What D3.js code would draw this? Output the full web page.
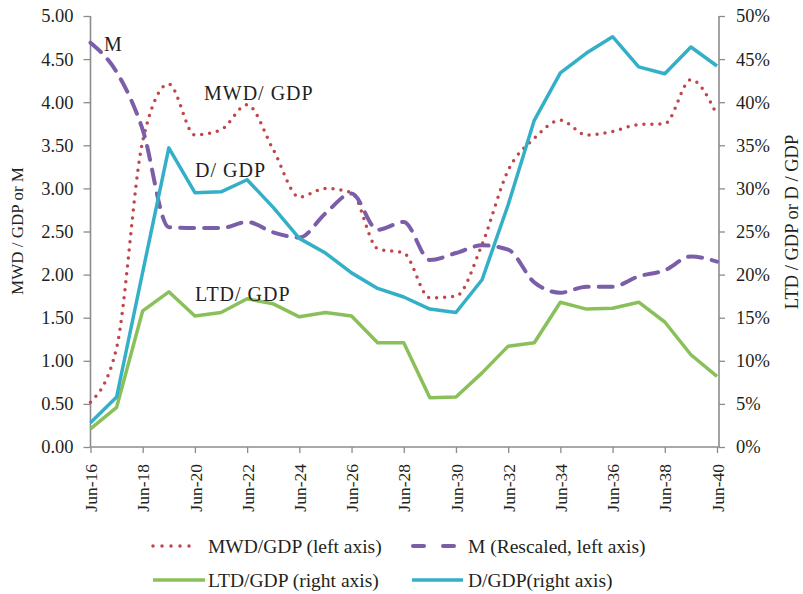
<!DOCTYPE html>
<html>
<head>
<meta charset="utf-8">
<script src="https://cdn.jsdelivr.net/npm/d3@7"></script>
<style>
  body { margin: 0; background: #fff; }
  text { font-family: "Liberation Serif", "DejaVu Serif", serif; fill: #231f20; }
</style>
</head>
<body>
<svg id="chart"></svg>
<script>
// annual points, June 2016 .. June 2040
const years = d3.range(2016, 2041);
const mwdGdp = [0.52, 1.15, 3.55, 4.21, 3.62, 3.68, 3.97, 3.45, 2.90, 3.00, 2.95, 2.30, 2.25, 1.73, 1.75,
                2.35, 3.21, 3.58, 3.79, 3.62, 3.66, 3.74, 3.75, 4.26, 3.85];
const mRescaled = [4.69, 4.35, 3.68, 2.55, 2.54, 2.54, 2.61, 2.49, 2.43, 2.71, 2.94, 2.52, 2.61, 2.17, 2.25,
                   2.34, 2.29, 1.91, 1.79, 1.86, 1.86, 1.98, 2.05, 2.21, 2.15];
const ltdGdp = [2.1, 4.6, 15.8, 18.0, 15.2, 15.6, 17.2, 16.6, 15.1, 15.6, 15.2, 12.1, 12.1, 5.7, 5.8,
                8.6, 11.7, 12.1, 16.8, 16.0, 16.1, 16.8, 14.5, 10.7, 8.2];
const dGdp = [2.8, 5.8, 20.3, 34.7, 29.5, 29.6, 31.0, 27.8, 24.2, 22.5, 20.2, 18.4, 17.4, 16.0, 15.6,
              19.4, 28.1, 37.9, 43.4, 45.7, 47.6, 44.1, 43.3, 46.4, 44.2];
const xTicks = d3.range(2016, 2041, 2);
const leftTicks = d3.range(0, 5.01, 0.5);
const rightTicks = d3.range(0, 51, 5);

const W = 803, H = 594;
const svg = d3.select('#chart').attr('width', W).attr('height', H);

const x = d3.scaleLinear().domain([2016, 2040]).range([90.5, 717]);
const yL = d3.scaleLinear().domain([0, 5]).range([447, 16]);
const yR = d3.scaleLinear().domain([0, 50]).range([447, 16]);

const axisColor = '#8c8c8c';

// axes
const gL = svg.append('g').attr('transform', 'translate(90.5,0)')
  .call(d3.axisLeft(yL).tickValues(leftTicks).tickFormat(d3.format('.2f')).tickSize(7).tickPadding(10));
const gR = svg.append('g').attr('transform', 'translate(719,0)')
  .call(d3.axisRight(yR).tickValues(rightTicks).tickFormat(d => d + '%').tickSize(6).tickPadding(11));
const gB = svg.append('g').attr('transform', 'translate(0,447)')
  .call(d3.axisBottom(x).tickValues(xTicks).tickFormat(d => 'Jun-' + String(d).slice(2)).tickSize(6).tickSizeOuter(0));

[gL, gR, gB].forEach(g => {
  g.select('.domain').attr('stroke', axisColor).attr('stroke-width', 1.6);
  g.selectAll('.tick line').attr('stroke', axisColor).attr('stroke-width', 1.3);
  g.selectAll('text').style('font-size', '18.5px').attr('font-family', null);
});
gL.select('.domain').attr('d', 'M0,16V447');
gR.select('.domain').attr('d', 'M0,16V447');
gB.select('.domain').attr('d', 'M90.5,0H719');
gB.selectAll('.tick text')
  .style('font-size', '17.5px')
  .attr('transform', 'rotate(-90)')
  .attr('text-anchor', 'end')
  .attr('x', -17).attr('y', 0).attr('dy', '0.35em');

// axis titles
svg.append('text')
  .attr('transform', 'translate(23,231) rotate(-90)')
  .attr('text-anchor', 'middle')
  .style('font-size', '17px')
  .text('MWD / GDP or M');
svg.append('text')
  .attr('transform', 'translate(798,222) rotate(-90)')
  .attr('text-anchor', 'middle')
  .style('font-size', '18.5px')
  .text('LTD / GDP or D / GDP');

// series
const series = [
  { key: 'mwd', vals: mwdGdp, y: yL, color: '#c0464a', width: 3.5, dash: '0 8', cap: 'round' },
  { key: 'm', vals: mRescaled, y: yL, color: '#7a5fa8', width: 4, dash: '14 10', cap: 'round' },
  { key: 'ltd', vals: ltdGdp, y: yR, color: '#8ac05a', width: 3.5, dash: null, cap: 'butt' },
  { key: 'd', vals: dGdp, y: yR, color: '#33b0c8', width: 3.5, dash: null, cap: 'butt' }
];

series.forEach(s => {
  const line = d3.line()
    .x((d, i) => x(years[i]))
    .y(d => s.y(d))
    .curve(s.key === 'mwd' || s.key === 'm' ? d3.curveMonotoneX : d3.curveLinear);
  svg.append('path')
    .datum(s.vals)
    .attr('d', line)
    .attr('fill', 'none')
    .attr('stroke', s.color)
    .attr('stroke-width', s.width)
    .attr('stroke-linecap', s.cap)
    .attr('stroke-linejoin', 'round')
    .attr('stroke-dasharray', s.dash);
});

// in-chart labels
const labels = [
  { t: 'M', x: 104, y: 51 },
  { t: 'MWD/ GDP', x: 204, y: 100 },
  { t: 'D/ GDP', x: 195, y: 177 },
  { t: 'LTD/ GDP', x: 195, y: 301 }
];
svg.selectAll('.lbl').data(labels).enter().append('text')
  .attr('class', 'lbl')
  .attr('x', d => d.x).attr('y', d => d.y)
  .style('font-size', '20px')
  .style('letter-spacing', '1px')
  .text(d => d.t);

// legend
const legend = [
  { t: 'MWD/GDP (left axis)', s: series[0], x: 153, x2: 198, y: 546 },
  { t: 'M (Rescaled, left axis)', s: series[1], x: 413, x2: 457, y: 546 },
  { t: 'LTD/GDP (right axis)', s: series[2], x: 153, x2: 205, y: 580 },
  { t: 'D/GDP(right axis)', s: series[3], x: 412, x2: 463, y: 580 }
];
const lg = svg.selectAll('.leg').data(legend).enter().append('g').attr('class', 'leg');
lg.append('line')
  .attr('x1', d => d.x).attr('x2', d => d.x2)
  .attr('y1', d => d.y).attr('y2', d => d.y)
  .attr('stroke', d => d.s.color)
  .attr('stroke-width', d => d.s.width)
  .attr('stroke-linecap', d => d.s.cap)
  .attr('stroke-dasharray', d => d.s.key === 'm' ? '11 19' : d.s.key === 'mwd' ? '0 9' : null);
lg.append('text')
  .attr('x', d => d.s.key === 'm' || d.s.key === 'd' ? 468 : 208)
  .attr('y', d => d.y).attr('dy', '0.35em')
  .style('font-size', '19.5px')
  .text(d => d.t);
</script>
</body>
</html>
